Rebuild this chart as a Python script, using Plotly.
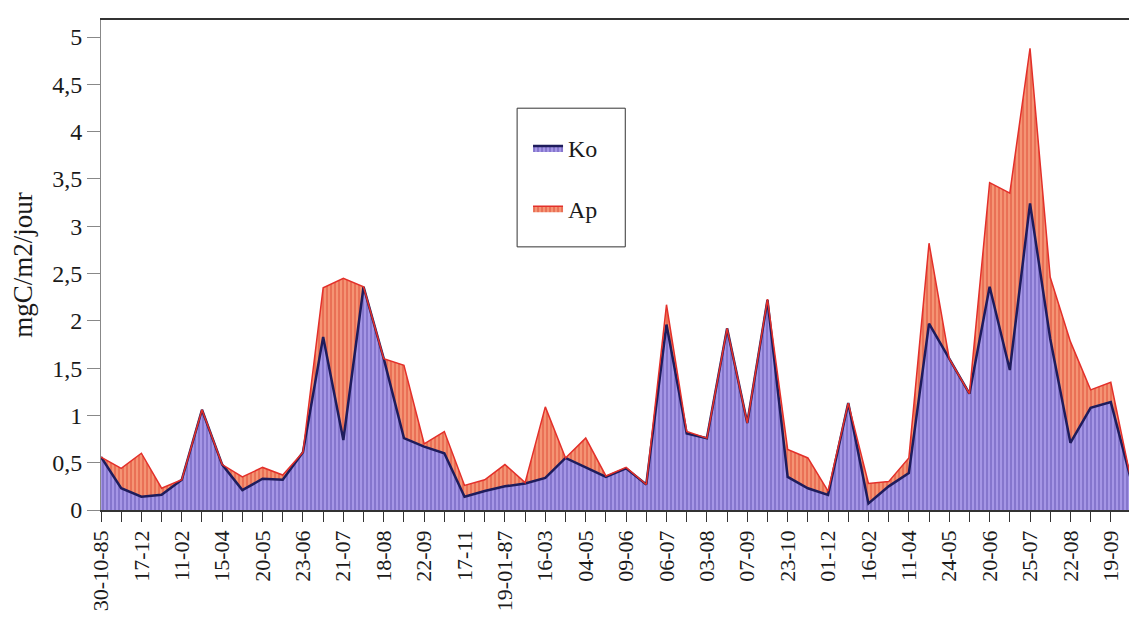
import plotly.graph_objects as go

# data (one point per sampling date, labels on every other one)
tick_labels = ['30-10-85', '17-12', '11-02', '15-04', '20-05', '23-06', '21-07', '18-08',
               '22-09', '17-11', '19-01-87', '16-03', '04-05', '09-06', '06-07', '03-08',
               '07-09', '23-10', '01-12', '16-02', '11-04', '24-05', '20-06', '25-07',
               '22-08', '19-09']

ko = [0.56, 0.23, 0.14, 0.16, 0.32, 1.06, 0.48, 0.21, 0.33, 0.32,
      0.61, 1.83, 0.74, 2.36, 1.60, 0.76, 0.67, 0.60, 0.14, 0.20,
      0.25, 0.28, 0.34, 0.55, 0.45, 0.35, 0.44, 0.27, 1.96, 0.81,
      0.76, 1.92, 0.92, 2.22, 0.35, 0.23, 0.16, 1.13, 0.07, 0.25,
      0.39, 1.97, 1.60, 1.23, 2.36, 1.48, 3.24, 1.81, 0.71, 1.08,
      1.14, 0.32]

ap = [0.00, 0.21, 0.46, 0.07, 0.00, 0.00, 0.00, 0.14, 0.12, 0.05,
      0.00, 0.52, 1.71, 0.00, 0.00, 0.77, 0.03, 0.23, 0.12, 0.12,
      0.23, 0.01, 0.75, 0.00, 0.31, 0.01, 0.01, 0.00, 0.21, 0.02,
      0.00, 0.00, 0.00, 0.01, 0.29, 0.32, 0.04, 0.00, 0.21, 0.05,
      0.16, 0.85, 0.00, 0.00, 1.10, 1.87, 1.64, 0.65, 1.07, 0.19,
      0.21, 0.00]

idx = list(range(len(ko)))
label_pos = idx[::2]

serif = 'Liberation Serif, Times New Roman, serif'

fig = go.Figure()
fig.add_trace(go.Scatter(x=idx, y=ko, name='Ko', stackgroup='one', mode='lines',
                         line=dict(color='#1e1c5c', width=2.5),
                         fillcolor='#9d8ee0',
                         fillpattern=dict(shape='|', fgcolor='#5546a8', bgcolor='#a596e6',
                                          size=4, solidity=0.4),
                         legendgroup='ko'))
fig.add_trace(go.Scatter(x=idx, y=ap, name='Ap', stackgroup='one', mode='lines',
                         line=dict(color='#e3302a', width=1.5),
                         fillcolor='#f0805e',
                         fillpattern=dict(shape='|', fgcolor='#d83a26', bgcolor='#f59474',
                                          size=4, solidity=0.4),
                         legendgroup='ap'))

fig.update_xaxes(range=[0, 51], tickmode='array', tickvals=label_pos, ticktext=tick_labels,
                 tickangle=-90, ticks='outside', ticklen=10, tickcolor='#333', automargin=False,
                 minor=dict(dtick=1, tick0=0, ticks='outside', ticklen=10, tickcolor='#333'),
                 showline=True, linecolor='#333', linewidth=1.5, mirror=True,
                 showgrid=False, zeroline=False,
                 tickfont=dict(family=serif, size=22, color='#1a1a1a'))
fig.update_yaxes(range=[0, 5.18], dtick=0.5, tick0=0, ticks='outside', ticklen=13,
                 tickcolor='#888', showline=True, linecolor='#888', linewidth=1, mirror=True,
                 showgrid=False, zeroline=False, automargin=False,
                 title=dict(text='mgC/m2/jour', font=dict(family=serif, size=27, color='#1a1a1a'),
                            standoff=14),
                 tickfont=dict(family=serif, size=24, color='#1a1a1a'))

# legend frame (the page body adds an 8px offset, so the figure is 8px smaller)
fig.add_shape(type='rect', xref='paper', yref='paper', x0=0.404, x1=0.509, y0=0.537, y1=0.82,
              line=dict(color='#333', width=1), fillcolor='white', layer='above')

fig.update_layout(width=1129, height=609, separators=', ',
                  margin=dict(l=93, r=6, t=12, b=107),
                  plot_bgcolor='white', paper_bgcolor='white',
                  legend=dict(x=0.4146, y=0.784, xanchor='left', yanchor='top',
                              traceorder='grouped', tracegroupgap=26,
                              borderwidth=0, bgcolor='rgba(0,0,0,0)',
                              font=dict(family=serif, size=24, color='#1a1a1a')),
                  showlegend=True)

fig.write_html('out.html')
